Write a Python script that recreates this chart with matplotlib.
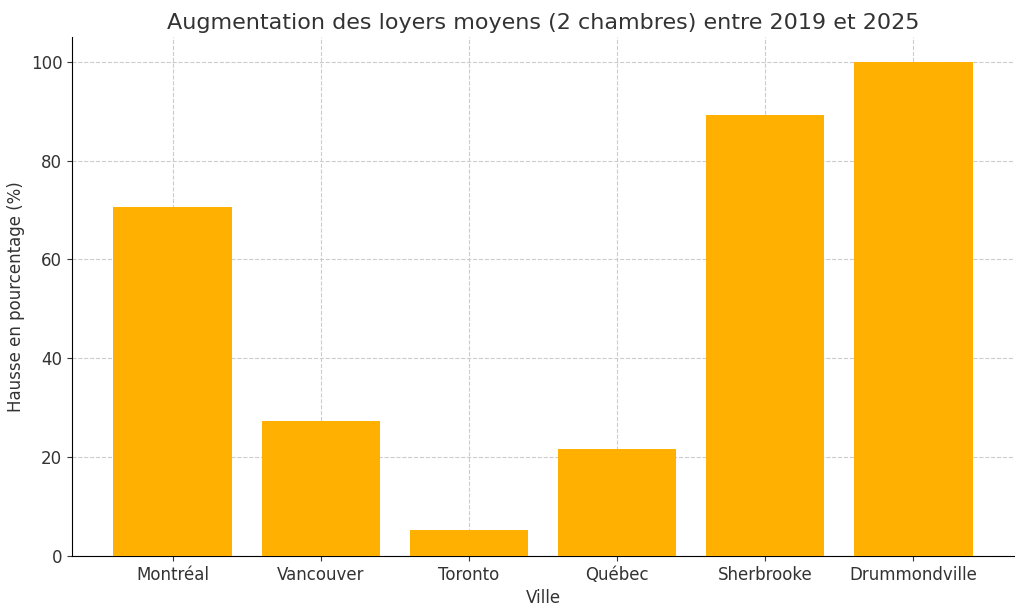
import matplotlib
matplotlib.use("Agg")
import matplotlib.pyplot as plt

villes = ["Montréal", "Vancouver", "Toronto", "Québec", "Sherbrooke", "Drummondville"]
hausse = [70.7, 27.3, 5.2, 21.6, 89.3, 100.0]

fig = plt.figure(figsize=(10.24, 6.11), dpi=100)
ax = fig.add_axes([72/1024, 1-556/611, (1014-72)/1024, (556-37)/611])
ax.bar(villes, hausse, color="#FFB000", width=0.8, zorder=3)
ax.set_ylim(0, 105)
ax.set_xlim(-0.68, 5.68)
ax.grid(True, linestyle="--", color="#cccccc", linewidth=0.8, zorder=0)
for s in ["top", "right"]:
    ax.spines[s].set_visible(False)
ax.tick_params(labelsize=12, colors="#333333")
ax.set_title("Augmentation des loyers moyens (2 chambres) entre 2019 et 2025", fontsize=16, color="#333333")
ax.set_xlabel("Ville", fontsize=12, color="#333333")
ax.set_ylabel("Hausse en pourcentage (%)", fontsize=12, color="#333333")
fig.savefig("out.png", dpi=100)
